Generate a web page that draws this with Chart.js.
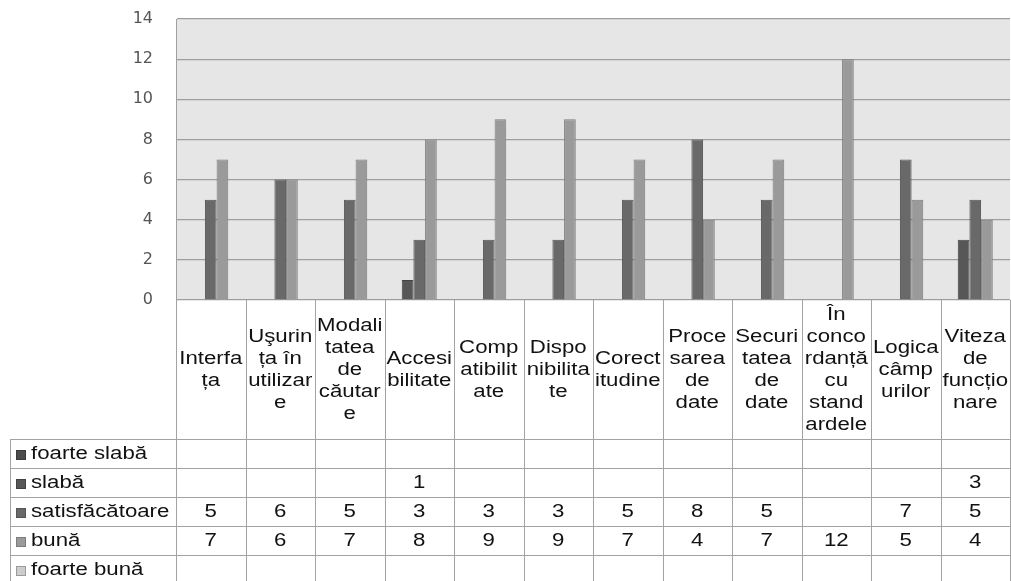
<!DOCTYPE html>
<html>
<head>
<meta charset="utf-8">
<script src="https://cdn.jsdelivr.net/npm/chart.js@4/dist/chart.umd.min.js"></script>
<style>
  html, body { margin: 0; padding: 0; background: #ffffff; }
  #wrap { width: 1011px; height: 581px; }
</style>
</head>
<body>
<div id="wrap"><canvas id="c" width="1011" height="581"></canvas></div>
<script>
// Evaluation criteria (wrapped the way they appear in the table header)
const categories = [
  ["Interfa", "ța"],
  ["Uşurin", "ța în", "utilizar", "e"],
  ["Modali", "tatea", "de", "căutar", "e"],
  ["Accesi", "bilitate"],
  ["Comp", "atibilit", "ate"],
  ["Dispo", "nibilita", "te"],
  ["Corect", "itudine"],
  ["Proce", "sarea", "de", "date"],
  ["Securi", "tatea", "de", "date"],
  ["În", "conco", "rdanță", "cu", "stand", "ardele"],
  ["Logica", "câmp", "urilor"],
  ["Viteza", "de", "funcțio", "nare"]
];

// Rating series
const seriesNames = ["foarte slabă", "slabă", "satisfăcătoare", "bună", "foarte bună"];
const foarteSlaba    = [null, null, null, null, null, null, null, null, null, null, null, null];
const slaba          = [null, null, null, 1, null, null, null, null, null, null, null, 3];
const satisfacatoare = [5, 6, 5, 3, 3, 3, 5, 8, 5, null, 7, 5];
const buna           = [7, 6, 7, 8, 9, 9, 7, 4, 7, 12, 5, 4];
const foarteBuna     = [null, null, null, null, null, null, null, null, null, null, null, null];

// Value axis ticks
const yTicks = [0, 2, 4, 6, 8, 10, 12, 14];

const seriesValues = [foarteSlaba, slaba, satisfacatoare, buna, foarteBuna];
const fills   = ["#4b4b4b", "#575757", "#696969", "#9a9a9a", "#cdcdcd"];
const borders = ["#3a3a3a", "#434343", "#555555", "#7c7c7c", "#9a9a9a"];

const TXT_FONT = '17.5px "Liberation Sans", Arial, sans-serif';
const SX = 1.27;          // horizontal widening of table text
const LINE_H = 22;
const ROW_H = 29;
const TABLE_LEFT = 10;
const LINE_COLOR = "#a3a3a3";

function wideText(ctx, str, x, y, align) {
  ctx.save();
  ctx.translate(x, y);
  ctx.scale(SX, 1);
  ctx.textAlign = align;
  ctx.fillText(str, 0, 0);
  ctx.restore();
}

// Grey plot background behind the grid
const plotBackground = {
  id: "plotBackground",
  beforeDraw(chart) {
    const { ctx, chartArea: a } = chart;
    ctx.save();
    ctx.fillStyle = "#e6e6e6";
    ctx.fillRect(a.left, a.top, a.right - a.left, a.bottom - a.top);
    ctx.restore();
  }
};

// Data table under the plot: category header, legend keys and values
const dataTable = {
  id: "dataTable",
  afterDraw(chart) {
    const { ctx, chartArea: a } = chart;
    const x = chart.scales.x;
    const n = categories.length;
    const colW = (a.right - a.left) / n;
    const headTop = a.bottom;
    const headBottom = headTop + 139;
    const bottom = chart.height + 5;

    ctx.save();
    ctx.strokeStyle = LINE_COLOR;
    ctx.lineWidth = 1;

    // column separators
    for (let i = 0; i <= n; i++) {
      const px = Math.round(a.left + i * colW) + 0.5;
      ctx.beginPath();
      ctx.moveTo(px, headTop);
      ctx.lineTo(px, bottom);
      ctx.stroke();
    }
    // legend column left edge
    ctx.beginPath();
    ctx.moveTo(TABLE_LEFT + 0.5, headBottom);
    ctx.lineTo(TABLE_LEFT + 0.5, bottom);
    ctx.stroke();
    // row separators
    for (let r = 0; r <= seriesNames.length; r++) {
      const py = Math.round(headBottom + r * ROW_H) + 0.5;
      ctx.beginPath();
      ctx.moveTo(TABLE_LEFT, py);
      ctx.lineTo(a.right, py);
      ctx.stroke();
    }

    ctx.fillStyle = "#111111";
    ctx.font = TXT_FONT;
    ctx.textBaseline = "middle";

    // category header
    const headMid = (headTop + headBottom) / 2 + 1;
    categories.forEach((lines, i) => {
      const cx = x.getPixelForValue(i);
      const y0 = headMid - (lines.length - 1) * LINE_H / 2;
      lines.forEach((ln, k) => wideText(ctx, ln, cx, y0 + k * LINE_H, "center"));
    });

    // legend keys + values
    seriesNames.forEach((name, r) => {
      const cy = headBottom + r * ROW_H + ROW_H / 2 + 1;
      const ky = Math.round(cy - 5);
      ctx.fillStyle = fills[r];
      ctx.fillRect(TABLE_LEFT + 6, ky, 10, 10);
      ctx.strokeStyle = borders[r];
      ctx.strokeRect(TABLE_LEFT + 6.5, ky + 0.5, 9, 9);
      ctx.fillStyle = "#111111";
      wideText(ctx, name, TABLE_LEFT + 21, cy, "left");
      seriesValues[r].forEach((v, i) => {
        if (v !== null) wideText(ctx, String(v), x.getPixelForValue(i), cy, "center");
      });
    });
    ctx.restore();
  }
};

new Chart(document.getElementById("c"), {
  type: "bar",
  data: {
    labels: categories.map(l => l.join("")),
    datasets: seriesNames.map((name, i) => ({
      label: name,
      data: seriesValues[i],
      backgroundColor: fills[i],
      borderColor: borders[i],
      borderWidth: 1,
      categoryPercentage: 0.84,
      barPercentage: 1.0
    }))
  },
  options: {
    responsive: false,
    animation: false,
    layout: { padding: { top: 19, right: 1, bottom: 281, left: 0 } },
    plugins: { legend: { display: false }, tooltip: { enabled: false } },
    scales: {
      x: { display: false },
      y: {
        min: 0,
        max: 14,
        afterBuildTicks(scale) { scale.ticks = yTicks.map(v => ({ value: v })); },
        afterFit(scale) { scale.width = 176; },
        grid: {
          color: "#9e9e9e",
          lineWidth: 1.2,
          drawTicks: true,
          tickLength: 23,
          tickColor: "rgba(0,0,0,0)"
        },
        border: { color: "#a0a0a0" },
        ticks: {
          padding: 0,
          color: "#555555",
          font: { family: "DejaVu Sans", size: 16 }
        }
      }
    }
  },
  plugins: [plotBackground, dataTable]
});
</script>
</body>
</html>
